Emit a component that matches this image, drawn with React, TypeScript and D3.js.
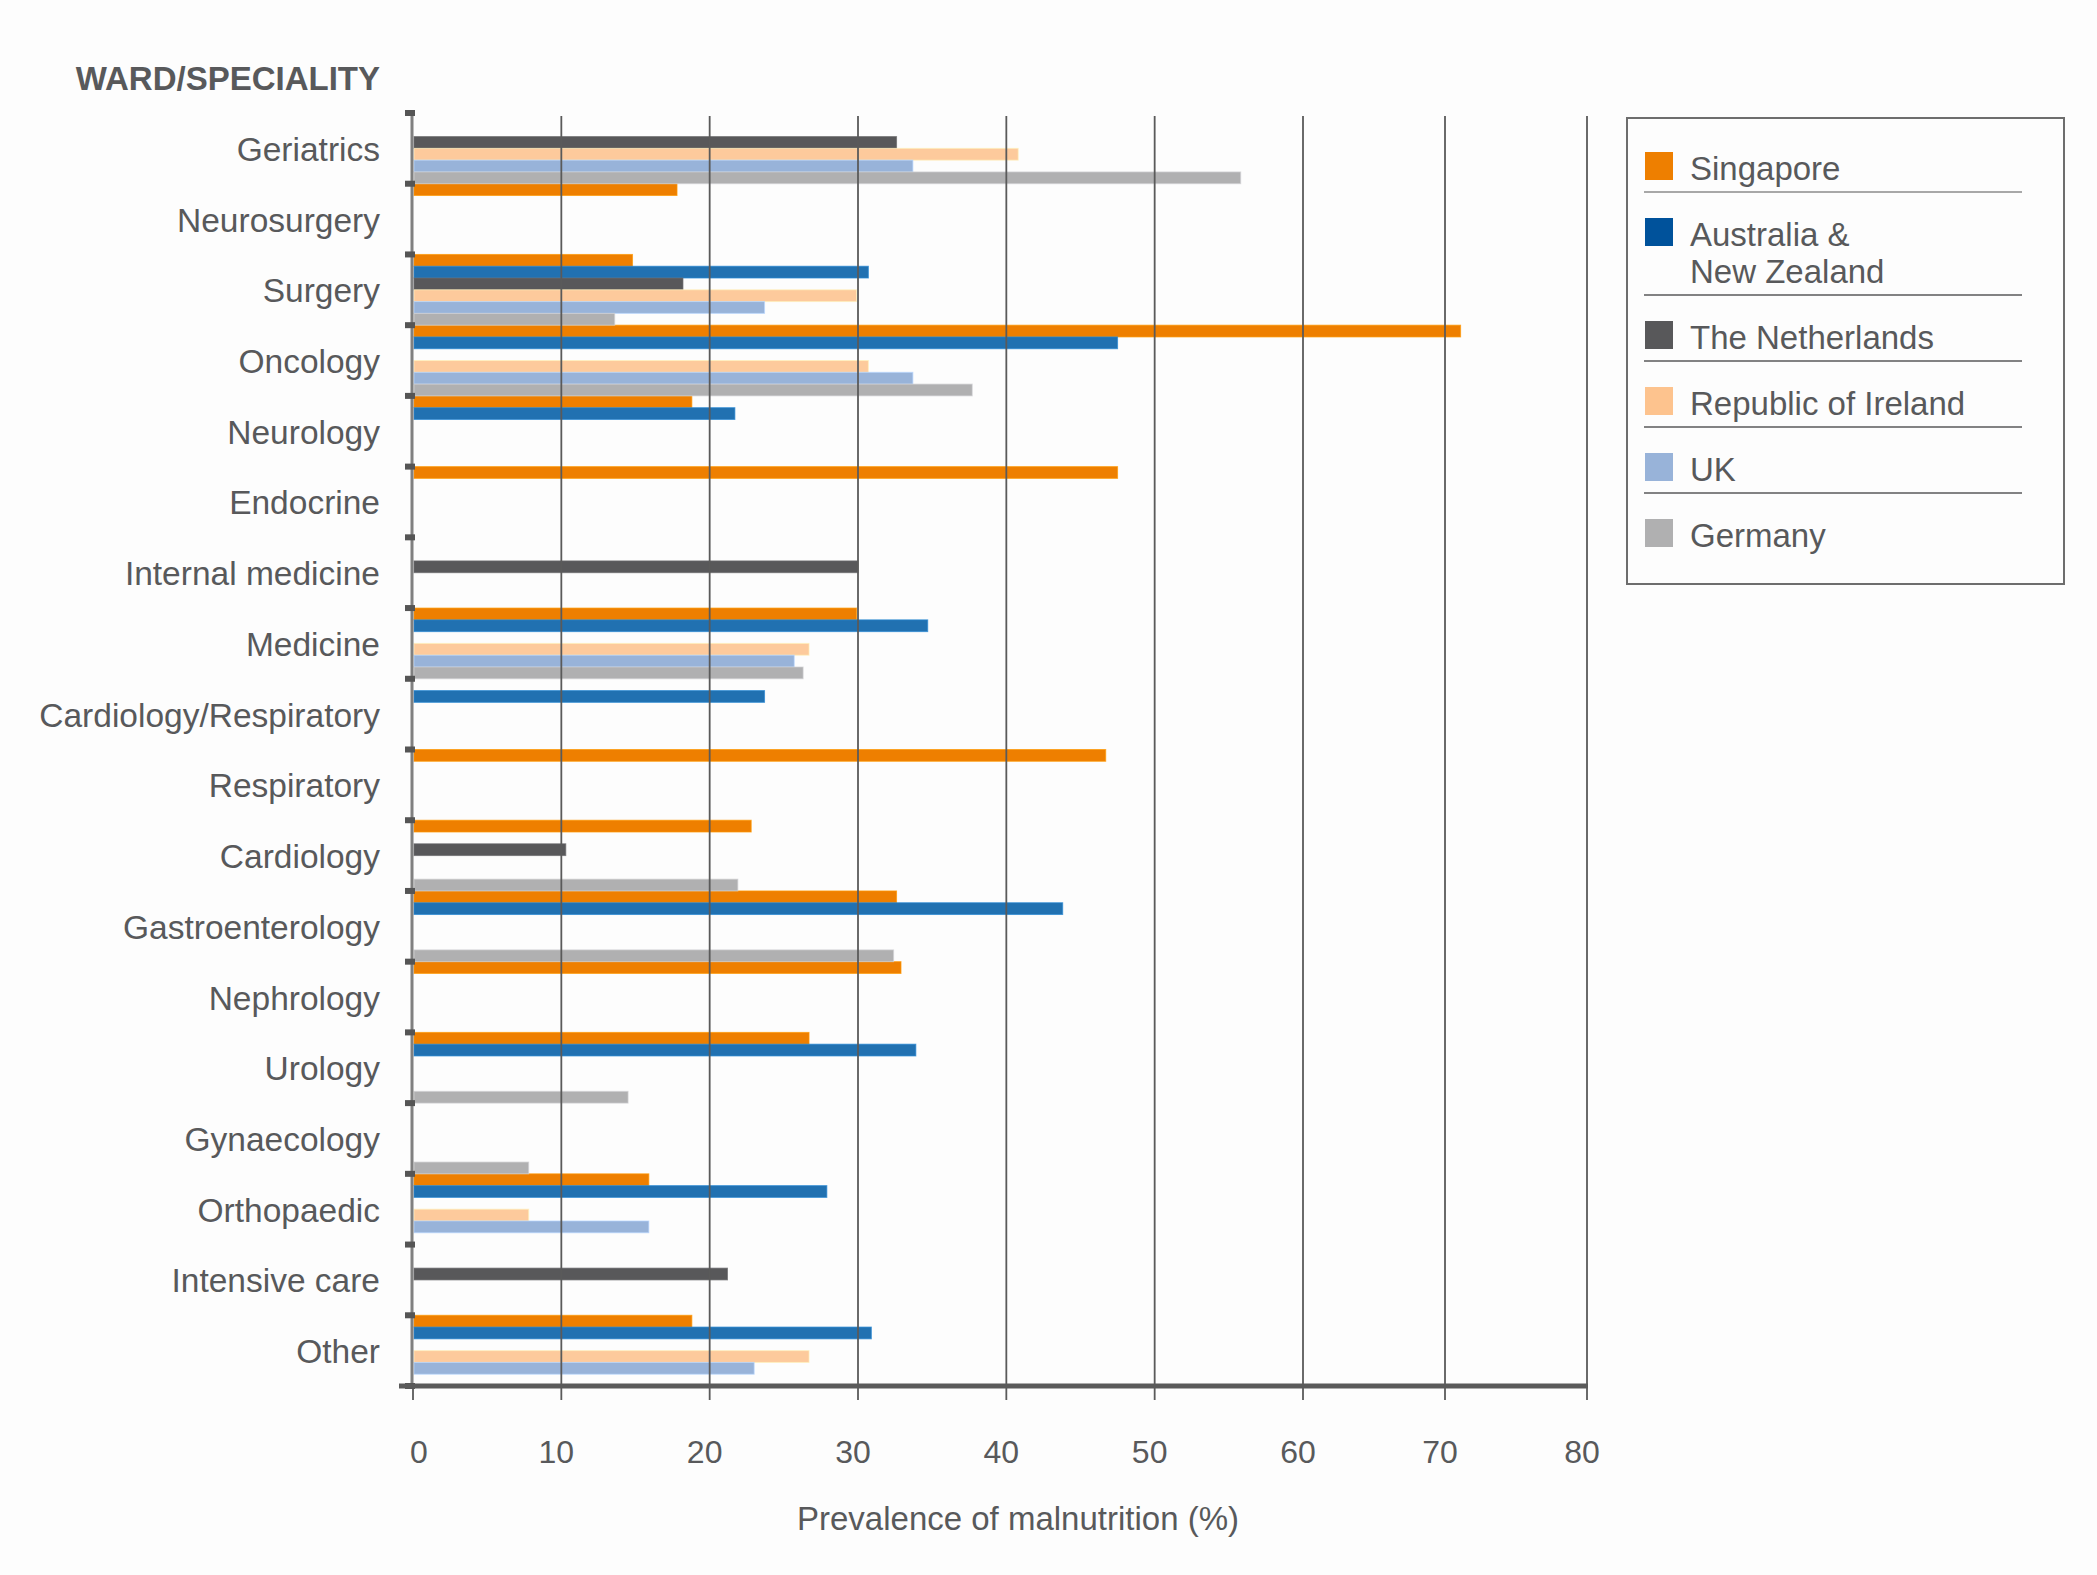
import * as d3 from 'd3';

// wards, top to bottom
const categories = [
    'Geriatrics', 'Neurosurgery', 'Surgery', 'Oncology', 'Neurology', 'Endocrine',
    'Internal medicine', 'Medicine', 'Cardiology/Respiratory', 'Respiratory', 'Cardiology',
    'Gastroenterology', 'Nephrology', 'Urology', 'Gynaecology', 'Orthopaedic',
    'Intensive care', 'Other',
];

const seriesNames = [
    'Singapore', 'Australia & New Zealand', 'The Netherlands',
    'Republic of Ireland', 'UK', 'Germany',
];

// prevalence (%) per ward, null = no data
const singapore = [null, 17.8, 14.8, 71.1, 18.8, 47.5, null, 29.9, null, 46.7, 22.8, 32.6, 32.9, 26.7, null, 15.9, null, 18.8];
const australiaNZ = [null, null, 30.7, 47.5, 21.7, null, null, 34.7, 23.7, null, null, 43.8, null, 33.9, null, 27.9, null, 30.9];
const netherlands = [32.6, null, 18.2, null, null, null, 30.0, null, null, null, 10.3, null, null, null, null, null, 21.2, null];
const ireland = [40.8, null, 29.9, 30.7, null, null, null, 26.7, null, null, null, null, null, null, null, 7.8, null, 26.7];
const uk = [33.7, null, 23.7, 33.7, null, null, null, 25.7, null, null, null, null, null, null, null, 15.9, null, 23.0];
const germany = [55.8, null, 13.6, 37.7, null, null, null, 26.3, null, null, 21.9, 32.4, null, 14.5, 7.8, null, null, null];

const xTicks = [0, 10, 20, 30, 40, 50, 60, 70, 80];

const legendLabels = [['Singapore'], ['Australia &', 'New Zealand'], ['The Netherlands'], ['Republic of Ireland'], ['UK'], ['Germany']];

const barColors = ['#ee7f00', '#2171b1', '#58585a', '#fdca9c', '#98b3d9', '#b0b0b1'];
const legendColors = ['#ee7f00', '#00529b', '#58585a', '#fdc38e', '#98b3d9', '#b0b0b1'];

const allSeries = [singapore, australiaNZ, netherlands, ireland, uk, germany];

const W = 2097;
const H = 1575;
const TEXT = '#58595b';
const FONT = '"Liberation Sans", Arial, Helvetica, sans-serif';

export default function App() {
    // the source's gridlines are spaced a little tighter past 60, so the scale is piecewise
    const x = d3.scaleLinear().domain([0, 60, 80]).range([413, 1303, 1587]);
    const y = d3.scaleBand<string>().domain(categories).range([113, 1386]).padding(0);
    const inner = d3.scaleBand<string>().domain(seriesNames).range([0, y.bandwidth()]).padding(0);

    const boundaries = d3.range(categories.length + 1).map(i => 113 + i * y.step());

    // legend rows
    let ly = 152;
    const legendRows = legendLabels.map((lines, i) => {
        const row = { y: ly, lines, color: legendColors[i], sep: ly + 40 + 37 * (lines.length - 1) };
        ly += 66 + 37 * (lines.length - 1);
        return row;
    });

    return (
        <svg width={W} height={H} style={{ position: 'absolute', left: 0, top: 0, background: '#fdfdfd' }} fontFamily={FONT}>
            <rect x={0} y={0} width={W} height={H} fill="#fdfdfd" />

            <text x={380} y={90} textAnchor="end" fontSize={33} fontWeight="bold" fill={TEXT}>
                WARD/SPECIALITY
            </text>

            {/* bars */}
            {allSeries.map((vals, s) =>
                vals.map((v, i) =>
                    v == null ? null : (
                        <rect
                            key={`${s}-${i}`}
                            x={x(0) + 1}
                            y={(y(categories[i]) as number) + (inner(seriesNames[s]) as number)}
                            width={x(v) - x(0) - 1}
                            height={inner.bandwidth()}
                            fill={barColors[s]}
                            stroke={d3.color(barColors[s])!.brighter(0.5).formatHex()}
                            strokeWidth={1}
                            strokeOpacity={0.7}
                        />
                    )
                )
            )}

            {/* gridlines */}
            {xTicks.slice(1).map(t => (
                <line key={t} x1={x(t)} x2={x(t)} y1={116} y2={1400} stroke="#5a5a5a" strokeWidth={1.8} />
            ))}
            <line x1={x(0)} x2={x(0)} y1={1386} y2={1400} stroke="#5a5a5a" strokeWidth={1.8} />

            {/* y axis */}
            <line x1={412} x2={412} y1={113} y2={1388} stroke="#808080" strokeWidth={3} />
            {boundaries.map((b, i) => (
                <rect key={i} x={405} y={b - 3} width={10} height={6} fill="#555" />
            ))}

            {/* x axis */}
            <line x1={399} x2={x(80) + 1} y1={1386} y2={1386} stroke="#5a5a5a" strokeWidth={5} />

            {/* category labels */}
            {categories.map(c => (
                <text
                    key={c}
                    x={380}
                    y={(y(c) as number) + y.bandwidth() / 2 + 1}
                    textAnchor="end"
                    dominantBaseline="central"
                    fontSize={33.5}
                    fill={TEXT}
                >
                    {c}
                </text>
            ))}

            {/* x tick labels */}
            {xTicks.map(t => (
                <text key={t} x={x(t) + (t === 0 ? 6 : -5)} y={1463} textAnchor="middle" fontSize={32} fill={TEXT}>
                    {t}
                </text>
            ))}
            <text x={1018} y={1530} textAnchor="middle" fontSize={33} fill={TEXT}>
                Prevalence of malnutrition (%)
            </text>

            {/* legend */}
            <rect x={1627} y={118} width={437} height={466} fill="none" stroke="#6d6d6d" strokeWidth={2} />
            {legendRows.map((r, i) => (
                <g key={i}>
                    <rect x={1645} y={r.y} width={28} height={28} fill={r.color} />
                    {r.lines.map((ln, j) => (
                        <text key={j} x={1690} y={r.y + 28 + 37 * j} fontSize={33} fill={TEXT}>
                            {ln}
                        </text>
                    ))}
                    {i < legendRows.length - 1 && (
                        <line
                            x1={1644}
                            x2={2022}
                            y1={r.sep}
                            y2={r.sep}
                            stroke={i === 0 ? '#a8a8a8' : '#58585a'}
                            strokeWidth={i === 0 ? 2 : 1.5}
                        />
                    )}
                </g>
            ))}
        </svg>
    );
}
